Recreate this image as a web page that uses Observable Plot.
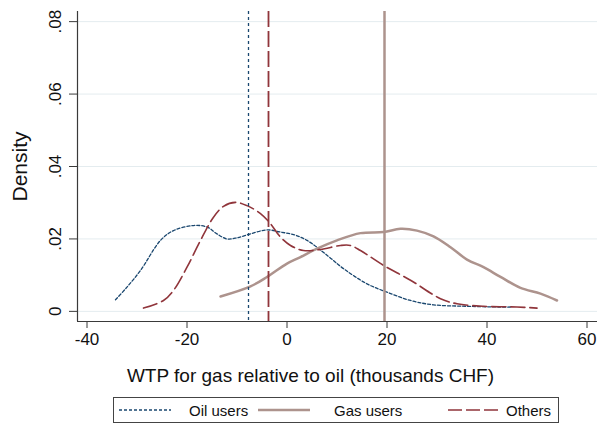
<!DOCTYPE html>
<html>
<head>
<meta charset="utf-8">
<script src="https://cdn.jsdelivr.net/npm/d3@7"></script>
<script src="https://cdn.jsdelivr.net/npm/@observablehq/plot@0.6"></script>
<style>
  html, body { margin: 0; padding: 0; background: #fff; }
  #wrap { position: relative; width: 600px; height: 425px; font-family: "Liberation Sans", Arial, sans-serif; }
  #legend { position: absolute; left: 113px; top: 397px; width: 446px; height: 26px; border: 1px solid #444; box-sizing: border-box; font-size: 15px; color: #111; }
  #legend .item { position: absolute; top: 0; height: 24px; display: flex; align-items: center; }
  #legend svg { display: block; }
</style>
</head>
<body>
<div id="wrap">
  <div id="chart"></div>
  <div id="legend"></div>
</div>
<script>
// ---- data ----
const oilX = [-34.3, -32, -29.3, -25.3, -22.7, -18.7, -16, -14, -12, -10, -7.3, -4, -1.3, 1.3, 4, 8, 11.3, 16, 20, 24.7, 29.3, 36, 42.7, 44.7];
const oilY = [.0032, .0067, .0113, .0196, .0223, .0237, .0233, .0214, .0200, .0203, .0214, .0225, .0219, .0212, .0196, .0155, .0118, .0076, .0053, .0030, .0018, .0014, .0012, .0012];

const gasX = [-13.3, -7.3, -4, 0, 2.7, 6, 10, 14.7, 19.3, 22.7, 26, 29.3, 32.7, 36, 39.3, 42.7, 46.7, 50.7, 54];
const gasY = [.0041, .0069, .0095, .0132, .0150, .0173, .0196, .0216, .0219, .0228, .0223, .0207, .0177, .0143, .0122, .0095, .0065, .0049, .0030];

const othX = [-28.7, -24.7, -22.7, -20, -17.3, -14.7, -12.7, -10.3, -8, -5.3, -3.3, -1.3, 0.7, 3.3, 6.7, 10.7, 12.7, 14.7, 19.3, 24.7, 30.7, 34, 39.3, 46, 50];
const othY = [.0009, .0030, .0058, .0122, .0196, .0260, .0290, .0301, .0292, .0270, .0242, .0205, .0182, .0168, .0171, .0182, .0182, .0168, .0127, .0086, .0035, .0021, .0014, .0012, .0009];

const groups = ["Oil users", "Gas users", "Others"];
const means = [-7.7, 19.5, -3.7];

const xTicks = [-40, -20, 0, 20, 40, 60];
const yTicks = [0, 0.02, 0.04, 0.06, 0.08];
const yTickLabels = ["0", ".02", ".04", ".06", ".08"];

const xTitle = "WTP for gas relative to oil (thousands CHF)";
const yTitle = "Density";

// ---- styles ----
const colors = {"Oil users": "#1a476f", "Gas users": "#ad938d", "Others": "#90353b"};
const dash = {"Oil users": "3,2", "Gas users": null, "Others": "14,5"};
const widths = {"Oil users": 1.3, "Gas users": 2.5, "Others": 1.6};

const toRows = (xs, ys) => xs.map((x, i) => ({x, y: ys[i]}));
const series = {
  "Oil users": toRows(oilX, oilY),
  "Gas users": toRows(gasX, gasY),
  "Others": toRows(othX, othY)
};

const xDom = [-41.9, 62.1];
const yDom = [-0.0028, 0.0828];
const axisColor = "#3a3a3a";

const lineMarks = groups.map(g => Plot.line(series[g], {
  x: "x", y: "y", stroke: colors[g], strokeWidth: widths[g],
  strokeDasharray: dash[g], curve: "catmull-rom"
}));

const meanMarks = groups.map((g, i) => Plot.ruleX([means[i]], {
  stroke: colors[g],
  strokeWidth: g === "Gas users" ? 2.5 : (g === "Others" ? 1.8 : 1.3),
  strokeDasharray: g === "Oil users" ? "3,3" : (g === "Others" ? "16,4" : null)
}));

const chart = Plot.plot({
  width: 600,
  height: 392,
  marginLeft: 77,
  marginRight: 3,
  marginTop: 11,
  marginBottom: 71,
  style: {fontFamily: '"Liberation Sans", Arial, sans-serif', background: "#fff", color: "#111"},
  x: {domain: xDom},
  y: {domain: yDom},
  marks: [
    Plot.gridY(yTicks, {stroke: "#e4ecef", strokeOpacity: 1, strokeWidth: 1}),
    ...lineMarks,
    ...meanMarks,
    Plot.ruleY([yDom[0]], {stroke: axisColor, strokeWidth: 1.2}),
    Plot.ruleX([xDom[0]], {stroke: axisColor, strokeWidth: 1.2}),
    Plot.axisX({ticks: xTicks, tickFormat: d => String(d), tickSize: 7, tickPadding: 4, fontSize: 17, label: null, stroke: axisColor, color: "#111"}),
    Plot.axisY({ticks: yTicks, tickFormat: () => "", tickSize: 8, label: null, stroke: axisColor}),
    Plot.text(yTicks, {y: d => d, text: (d, i) => yTickLabels[i], frameAnchor: "left", dx: -22, rotate: -90, fontSize: 17, textAnchor: "middle", lineAnchor: "middle", fill: "#111"}),
    Plot.text([xTitle], {frameAnchor: "bottom", dy: 54, dx: -27, fontSize: 19, textAnchor: "middle", lineAnchor: "middle", fill: "#111"}),
    Plot.text([yTitle], {frameAnchor: "left", dx: -57, rotate: -90, fontSize: 21, textAnchor: "middle", lineAnchor: "middle", fill: "#111"})
  ]
});
document.getElementById("chart").appendChild(chart);

// ---- legend (HTML, below the SVG) ----
const legendPos = [
  {sample: 5, label: 75},
  {sample: 144, label: 220},
  {sample: 334, label: 392}
];
const legend = document.getElementById("legend");
groups.forEach((g, i) => {
  const s = document.createElement("div");
  s.className = "item";
  s.style.left = legendPos[i].sample + "px";
  s.innerHTML = `<svg width="52" height="10"><line x1="0" y1="5" x2="52" y2="5" stroke="${colors[g]}" stroke-width="${widths[g]}" ${dash[g] ? `stroke-dasharray="${g === "Others" ? "14,4" : "3,2"}"` : ""}/></svg>`;
  legend.appendChild(s);
  const t = document.createElement("div");
  t.className = "item";
  t.style.left = legendPos[i].label + "px";
  t.textContent = g;
  legend.appendChild(t);
});
</script>
</body>
</html>
